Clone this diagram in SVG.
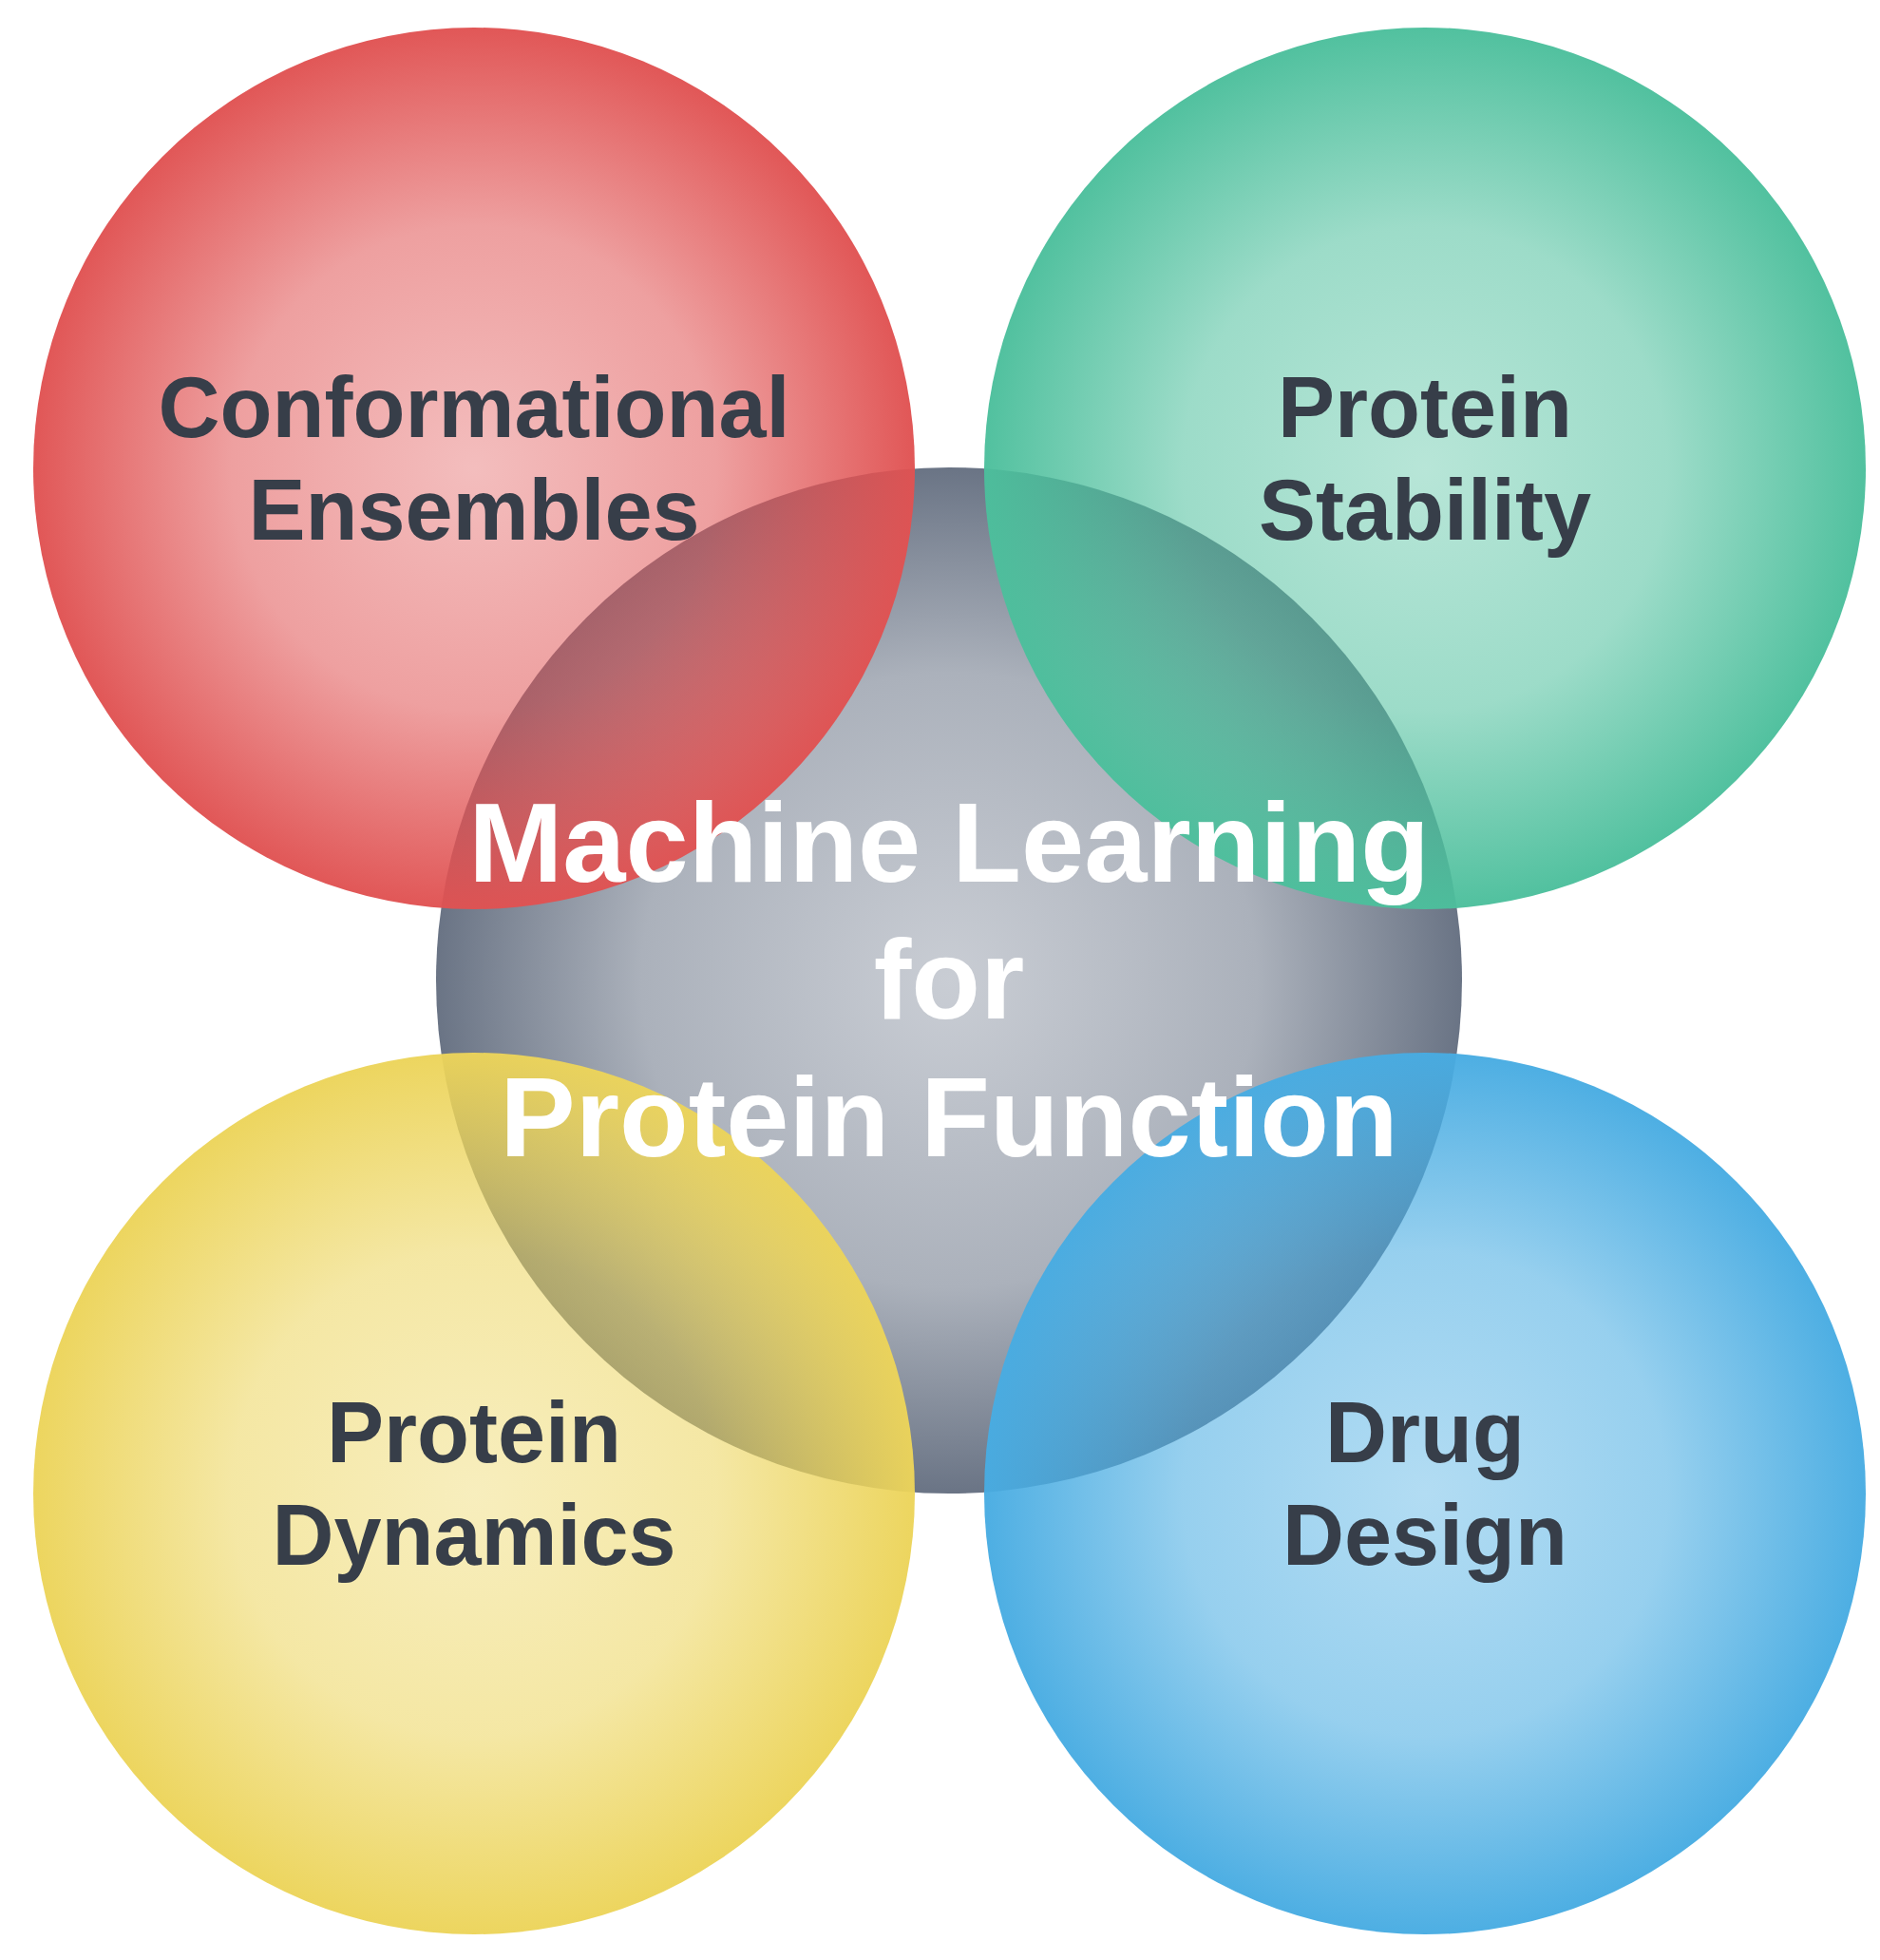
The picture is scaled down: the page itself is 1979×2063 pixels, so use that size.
<svg xmlns="http://www.w3.org/2000/svg" width="1979" height="2063" viewBox="0 0 1979 2063">
<defs>
<radialGradient id="gGray" cx="0.5" cy="0.5" r="0.5">
<stop offset="0" stop-color="#c9cdd4"/>
<stop offset="0.6" stop-color="#abb1bb"/>
<stop offset="1" stop-color="#6a7485"/>
</radialGradient>
<radialGradient id="gRed" cx="0.5" cy="0.5" r="0.5">
<stop offset="0" stop-color="#e05252" stop-opacity="0.38"/>
<stop offset="0.55" stop-color="#e05252" stop-opacity="0.55"/>
<stop offset="1" stop-color="#e05252" stop-opacity="0.97"/>
</radialGradient>
<radialGradient id="gGreen" cx="0.5" cy="0.5" r="0.5">
<stop offset="0" stop-color="#4cbf9c" stop-opacity="0.4"/>
<stop offset="0.55" stop-color="#4cbf9c" stop-opacity="0.55"/>
<stop offset="1" stop-color="#4cbf9c" stop-opacity="0.97"/>
</radialGradient>
<radialGradient id="gYellow" cx="0.5" cy="0.5" r="0.5">
<stop offset="0" stop-color="#ecd45a" stop-opacity="0.4"/>
<stop offset="0.55" stop-color="#ecd45a" stop-opacity="0.55"/>
<stop offset="1" stop-color="#ecd45a" stop-opacity="0.97"/>
</radialGradient>
<radialGradient id="gBlue" cx="0.5" cy="0.5" r="0.5">
<stop offset="0" stop-color="#48ace2" stop-opacity="0.42"/>
<stop offset="0.55" stop-color="#48ace2" stop-opacity="0.57"/>
<stop offset="1" stop-color="#48ace2" stop-opacity="0.97"/>
</radialGradient>
</defs>
<style>
.lbl{font-family:"Liberation Sans",Arial,sans-serif;font-weight:bold;font-size:90px;fill:#373e49;text-anchor:middle}
.main{font-family:"Liberation Sans",Arial,sans-serif;font-weight:bold;font-size:119px;fill:#ffffff;text-anchor:middle}
</style>
<rect width="1979" height="2063" fill="#ffffff"/>
<g id="center-node">
<circle cx="999" cy="1032" r="540" fill="url(#gGray)"/>
</g>
<g id="conformational-ensembles">
<circle cx="499" cy="493" r="464" fill="url(#gRed)"/>
<text class="lbl" x="499" y="460">Conformational</text>
<text class="lbl" x="499" y="568">Ensembles</text>
</g>
<g id="protein-stability">
<circle cx="1500" cy="493" r="464" fill="url(#gGreen)"/>
<text class="lbl" x="1500" y="460">Protein</text>
<text class="lbl" x="1500" y="568">Stability</text>
</g>
<g id="protein-dynamics">
<circle cx="499" cy="1572" r="464" fill="url(#gYellow)"/>
<text class="lbl" x="499" y="1539">Protein</text>
<text class="lbl" x="499" y="1647">Dynamics</text>
</g>
<g id="drug-design">
<circle cx="1500" cy="1572" r="464" fill="url(#gBlue)"/>
<text class="lbl" x="1500" y="1539">Drug</text>
<text class="lbl" x="1500" y="1647">Design</text>
</g>
<g id="center-label">
<text class="main" x="999" y="928">Machine Learning</text>
<text class="main" x="999" y="1072">for</text>
<text class="main" x="999" y="1217">Protein Function</text>
</g>
</svg>
